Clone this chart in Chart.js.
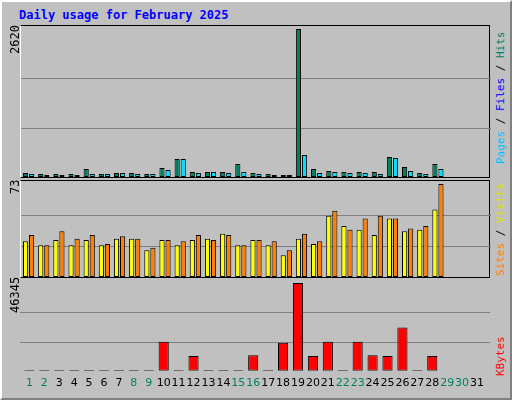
<!DOCTYPE html><html><head><script src="https://cdn.jsdelivr.net/npm/chart.js"></script>
<style>
body{margin:0;width:512px;height:400px;overflow:hidden;background:#c0c0c0}
#frame{position:absolute;left:0;top:0;width:508px;height:396px;background:#c0c0c0;border-top:2px solid #fff;border-left:2px solid #fff;border-right:2px solid #808080;border-bottom:2px solid #808080}
.p{position:absolute;left:20px;width:470px;border:1px solid #000;border-left-color:#fff;box-sizing:border-box}
.p canvas{position:absolute;left:0;top:0}
.t{position:absolute;font:bold 12px "DejaVu Sans Mono",monospace;color:#0000ff;left:19px;top:8px}
.v{position:absolute;font:12px "DejaVu Sans Mono",monospace;transform-origin:left top;transform:rotate(-90deg);white-space:nowrap}
.r{font-size:11px}
</style></head><body><div id="frame"></div>
<div class="t">Daily usage for February 2025</div>
<div id="p1" class="p" style="top:25px;height:153px"><canvas id="c1"></canvas></div>
<div id="p2" class="p" style="top:180px;height:98px"><canvas id="c2"></canvas></div>
<div id="p3" class="p" style="top:280px;height:118px;border:none"><canvas id="c3"></canvas></div>
<div class="v" style="left:8px;top:54px">2620</div>
<div class="v" style="left:8px;top:194px">73</div>
<div class="v" style="left:8px;top:313px">46345</div>
<div class="v r" style="left:494px;top:164px"><span style="color:#00c0ff">Pages</span> / <span style="color:#0000ff">Files</span> / <span style="color:#008060">Hits</span></div>
<div class="v r" style="left:494px;top:276px"><span style="color:#ff8000">Sites</span> / <span style="color:#e0e000">Visits</span></div>
<div class="v r" style="left:494px;top:376px"><span style="color:#ff0000">KBytes</span></div>
<script>
const days=[];for(let i=1;i<=31;i++)days.push(String(i));
const weekend=[1,2,8,9,15,16,22,23,29,30];
const hits=[71,53,53,53,142,53,71,71,53,160,320,89,89,89,231,71,53,36,2620,142,107,89,89,89,356,178,71,231,null,null,null];
const pages=[53,36,36,36,53,53,71,53,53,124,320,71,89,71,89,53,36,36,391,71,89,71,71,53,338,107,53,142,null,null,null];
const visits=[28,25,29,25,29,25,30,30,21,29,25,29,30,34,25,29,25,17,30,26,48,40,37,33,46,36,37,53,null,null,null];
const sites=[33,25,36,30,33,26,32,30,23,29,28,33,29,33,25,29,28,21,34,28,52,37,46,48,46,38,40,73,null,null,null];
const kbytes=[400,400,400,400,400,400,400,400,400,15300,400,7750,400,400,400,8260,400,14830,46345,7750,15300,400,15300,8260,7750,22900,400,7750,null,null,null];
function grid(max){return{id:'g',beforeDatasetsDraw(c){const y=c.scales.y,ctx=c.ctx;ctx.save();ctx.strokeStyle='#808080';ctx.lineWidth=1;[max/3,2*max/3].forEach(v=>{const py=Math.round(y.getPixelForValue(v))+0.5;ctx.beginPath();ctx.moveTo(0,py);ctx.lineTo(c.width,py);ctx.stroke();});ctx.restore();}}}
function mk(id,ds,max,top,showX,h){
 const cv=document.getElementById(id);cv.width=470;cv.height=h;cv.style.width='470px';cv.style.height=h+'px';
 return new Chart(cv,{type:'bar',data:{labels:days,datasets:ds.map(d=>Object.assign({borderColor:'#000',borderWidth:1,borderSkipped:false,categoryPercentage:0.8,barPercentage:0.85},d))},
 options:{responsive:false,animation:false,devicePixelRatio:1,layout:{padding:{top:top,left:0,right:0,bottom:0}},plugins:{legend:{display:false},tooltip:{enabled:false}},
 scales:{x:{display:showX,grid:{display:false,drawTicks:false},border:{display:false},ticks:{autoSkip:false,maxRotation:0,minRotation:0,padding:6,font:{family:'DejaVu Sans',size:11},color:c=>weekend.includes(c.index+1)?'#008060':'#000'}},
 y:{display:false,min:0,max:max}}},plugins:[grid(max)]});}
mk('c1',[{data:hits,backgroundColor:'#008060'},{data:pages,backgroundColor:'#00e0ff'}],2620,3,false,151);
mk('c2',[{data:visits,backgroundColor:'#ffff00'},{data:sites,backgroundColor:'#ff8000'}],73,3,false,96);
mk('c3',[{data:kbytes,backgroundColor:'#ff0000',barPercentage:0.8,categoryPercentage:0.85}],46345,3,true,116);
</script></body></html>
